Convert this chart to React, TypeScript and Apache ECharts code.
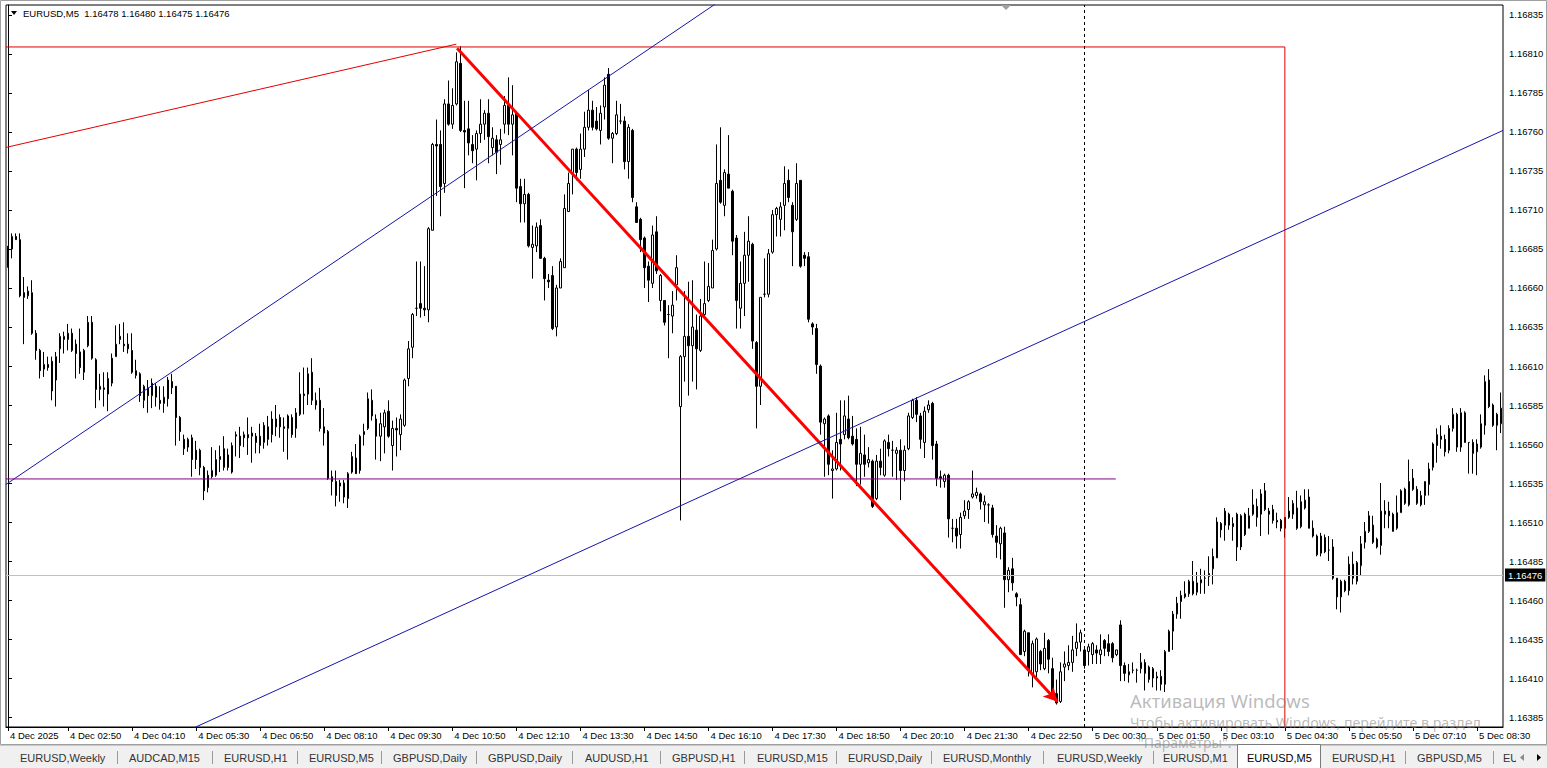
import React, { useEffect, useRef } from "react";
import * as echarts from "echarts";

// ---------- DATA (EURUSD M5 candles) ----------
const opens = [
  1.16686,1.16685,1.16693,1.16691,1.16657,1.16655,1.16657,1.16631,1.16620,1.16608,
  1.16611,1.16613,1.16601,1.16621,1.16627,1.16627,1.16631,1.16624,1.16619,1.16606,
  1.16623,1.16638,1.16614,1.16595,1.16596,1.16592,1.16599,1.16616,1.16629,1.16624,
  1.16624,1.16620,1.16607,1.16605,1.16588,1.16596,1.16591,1.16597,1.16588,1.16586,
  1.16589,1.16600,1.16597,1.16577,1.16563,1.16558,1.16564,1.16556,1.16556,1.16545,
  1.16532,1.16539,1.16540,1.16550,1.16545,1.16553,1.16542,1.16565,1.16565,1.16566,
  1.16566,1.16565,1.16565,1.16559,1.16561,1.16571,1.16566,1.16576,1.16577,1.16571,
  1.16570,1.16577,1.16570,1.16579,1.16592,1.16592,1.16606,1.16585,1.16588,1.16571,
  1.16568,1.16539,1.16536,1.16533,1.16535,1.16525,1.16542,1.16551,1.16543,1.16566,
  1.16570,1.16588,1.16576,1.16565,1.16571,1.16581,1.16559,1.16570,1.16566,1.16572,
  1.16602,1.16622,1.16647,1.16650,1.16647,1.16646,1.16697,1.16752,1.16752,1.16727,
  1.16778,1.16765,1.16778,1.16804,1.16761,1.16762,1.16752,1.16749,1.16759,1.16765,
  1.16772,1.16750,1.16755,1.16752,1.16765,1.16777,1.16765,1.16772,1.16725,1.16714,
  1.16720,1.16686,1.16687,1.16700,1.16679,1.16665,1.16668,1.16635,1.16660,1.16673,
  1.16709,1.16734,1.16749,1.16736,1.16749,1.16763,1.16774,1.16767,1.16761,1.16776,
  1.16797,1.16756,1.16759,1.16767,1.16767,1.16741,1.16761,1.16712,1.16704,1.16692,
  1.16674,1.16663,1.16696,1.16652,1.16652,1.16643,1.16642,1.16662,1.16584,1.16616,
  1.16629,1.16623,1.16633,1.16620,1.16643,1.16652,1.16660,1.16685,1.16729,1.16713,
  1.16733,1.16722,1.16692,1.16647,1.16663,1.16681,1.16688,1.16625,1.16597,1.16656,
  1.16656,1.16683,1.16707,1.16704,1.16713,1.16729,1.16713,1.16704,1.16729,1.16681,
  1.16680,1.16637,1.16634,1.16610,1.16573,1.16578,1.16543,1.16544,1.16563,1.16566,
  1.16576,1.16565,1.16563,1.16547,1.16553,1.16548,1.16549,1.16525,1.16549,1.16540,
  1.16561,1.16556,1.16554,1.16556,1.16543,1.16557,1.16577,1.16588,1.16578,1.16561,
  1.16582,1.16586,1.16560,1.16539,1.16536,1.16540,1.16506,1.16506,1.16502,1.16514,
  1.16518,1.16526,1.16527,1.16528,1.16521,1.16521,1.16519,1.16501,1.16496,1.16503,
  1.16473,1.16480,1.16464,1.16457,1.16427,1.16439,1.16412,1.16414,1.16427,1.16416,
  1.16434,1.16416,1.16400,1.16395,1.16417,1.16418,1.16420,1.16429,1.16433,1.16428,
  1.16427,1.16425,1.16428,1.16425,1.16434,1.16432,1.16432,1.16425,1.16444,1.16418,
  1.16412,1.16415,1.16415,1.16416,1.16420,1.16409,1.16416,1.16410,1.16411,1.16406,
  1.16427,1.16440,1.16451,1.16459,1.16462,1.16464,1.16472,1.16465,1.16471,1.16474,
  1.16475,1.16480,1.16487,1.16509,1.16508,1.16515,1.16507,1.16515,1.16494,1.16515,
  1.16506,1.16515,1.16520,1.16515,1.16530,1.16517,1.16518,1.16511,1.16511,1.16506,
  1.16513,1.16515,1.16519,1.16507,1.16519,1.16526,1.16506,1.16501,1.16490,1.16500,
  1.16492,1.16494,1.16474,1.16462,1.16472,1.16466,1.16483,1.16472,1.16482,1.16497,
  1.16504,1.16508,1.16499,1.16495,1.16517,1.16517,1.16515,1.16506,1.16516,1.16531,
  1.16521,1.16538,1.16531,1.16521,1.16527,1.16534,1.16545,1.16559,1.16565,1.16563,
  1.16556,1.16570,1.16579,1.16558,1.16580,1.16561,1.16561,1.16555,1.16558,1.16572,
  1.16601,1.16585,1.16579,1.16573,
];
const highs = [
  1.16687,1.16695,1.16695,1.16695,1.16667,1.16661,1.16665,1.16633,1.16621,1.16619,
  1.16616,1.16616,1.16619,1.16631,1.16632,1.16637,1.16634,1.16627,1.16634,1.16621,
  1.16642,1.16642,1.16615,1.16605,1.16606,1.16606,1.16618,1.16636,1.16637,1.16638,
  1.16631,1.16631,1.16614,1.16606,1.16598,1.16601,1.16602,1.16599,1.16597,1.16597,
  1.16603,1.16605,1.16597,1.16578,1.16566,1.16564,1.16566,1.16562,1.16557,1.16546,
  1.16543,1.16558,1.16556,1.16559,1.16565,1.16557,1.16561,1.16568,1.16571,1.16568,
  1.16577,1.16571,1.16567,1.16573,1.16574,1.16578,1.16581,1.16585,1.16579,1.16577,
  1.16579,1.16579,1.16583,1.16606,1.16609,1.16609,1.16615,1.16593,1.16596,1.16583,
  1.16569,1.16543,1.16543,1.16537,1.16537,1.16542,1.16555,1.16560,1.16566,1.16573,
  1.16593,1.16595,1.16579,1.16580,1.16582,1.16588,1.16575,1.16577,1.16579,1.16602,
  1.16626,1.16644,1.16677,1.16677,1.16674,1.16699,1.16753,1.16768,1.16761,1.16781,
  1.16793,1.16788,1.16811,1.16815,1.16780,1.16780,1.16758,1.16761,1.16781,1.16774,
  1.16781,1.16763,1.16758,1.16762,1.16783,1.16795,1.16790,1.16773,1.16730,1.16730,
  1.16721,1.16700,1.16702,1.16704,1.16680,1.16669,1.16674,1.16662,1.16679,1.16720,
  1.16734,1.16749,1.16750,1.16759,1.16773,1.16787,1.16780,1.16776,1.16777,1.16795,
  1.16801,1.16760,1.16780,1.16778,1.16770,1.16765,1.16762,1.16715,1.16705,1.16693,
  1.16677,1.16700,1.16706,1.16669,1.16652,1.16649,1.16658,1.16681,1.16617,1.16658,
  1.16664,1.16665,1.16643,1.16653,1.16677,1.16676,1.16691,1.16752,1.16763,1.16736,
  1.16758,1.16723,1.16694,1.16677,1.16696,1.16706,1.16689,1.16626,1.16654,1.16679,
  1.16685,1.16710,1.16712,1.16715,1.16738,1.16736,1.16715,1.16740,1.16729,1.16683,
  1.16683,1.16638,1.16637,1.16611,1.16577,1.16579,1.16556,1.16580,1.16588,1.16588,
  1.16591,1.16578,1.16570,1.16571,1.16566,1.16558,1.16550,1.16553,1.16557,1.16563,
  1.16566,1.16562,1.16558,1.16563,1.16559,1.16580,1.16589,1.16590,1.16580,1.16584,
  1.16588,1.16587,1.16562,1.16543,1.16541,1.16541,1.16512,1.16512,1.16516,1.16524,
  1.16524,1.16543,1.16532,1.16529,1.16527,1.16522,1.16521,1.16508,1.16507,1.16507,
  1.16481,1.16487,1.16465,1.16461,1.16441,1.16439,1.16434,1.16436,1.16428,1.16439,
  1.16435,1.16423,1.16409,1.16420,1.16427,1.16431,1.16437,1.16445,1.16441,1.16430,
  1.16432,1.16433,1.16431,1.16438,1.16435,1.16438,1.16433,1.16428,1.16447,1.16420,
  1.16419,1.16420,1.16416,1.16426,1.16422,1.16418,1.16417,1.16414,1.16415,1.16428,
  1.16441,1.16453,1.16462,1.16466,1.16472,1.16473,1.16485,1.16478,1.16480,1.16479,
  1.16488,1.16493,1.16513,1.16510,1.16519,1.16516,1.16513,1.16516,1.16515,1.16516,
  1.16519,1.16531,1.16525,1.16531,1.16535,1.16519,1.16521,1.16516,1.16512,1.16513,
  1.16526,1.16524,1.16530,1.16527,1.16531,1.16531,1.16511,1.16502,1.16503,1.16502,
  1.16501,1.16499,1.16474,1.16473,1.16473,1.16488,1.16491,1.16485,1.16501,1.16510,
  1.16517,1.16514,1.16500,1.16535,1.16524,1.16523,1.16516,1.16527,1.16531,1.16532,
  1.16550,1.16544,1.16533,1.16530,1.16536,1.16548,1.16561,1.16570,1.16572,1.16566,
  1.16572,1.16583,1.16580,1.16583,1.16581,1.16561,1.16563,1.16563,1.16579,1.16604,
  1.16608,1.16586,1.16580,1.16593,
];
const lows = [
  1.16673,1.16679,1.16691,1.16654,1.16624,1.16653,1.16630,1.16614,1.16602,1.16603,
  1.16607,1.16588,1.16584,1.16612,1.16618,1.16620,1.16619,1.16602,1.16605,1.16601,
  1.16622,1.16614,1.16583,1.16588,1.16584,1.16581,1.16597,1.16616,1.16624,1.16619,
  1.16618,1.16605,1.16602,1.16587,1.16583,1.16580,1.16583,1.16584,1.16582,1.16580,
  1.16584,1.16592,1.16559,1.16562,1.16553,1.16555,1.16539,1.16544,1.16540,1.16524,
  1.16529,1.16538,1.16539,1.16542,1.16543,1.16543,1.16541,1.16552,1.16551,1.16558,
  1.16553,1.16548,1.16554,1.16554,1.16557,1.16559,1.16561,1.16565,1.16564,1.16555,
  1.16550,1.16564,1.16564,1.16578,1.16579,1.16585,1.16585,1.16582,1.16568,1.16559,
  1.16537,1.16527,1.16520,1.16523,1.16522,1.16519,1.16541,1.16541,1.16541,1.16559,
  1.16569,1.16575,1.16550,1.16549,1.16554,1.16564,1.16543,1.16552,1.16556,1.16571,
  1.16597,1.16615,1.16642,1.16641,1.16642,1.16638,1.16697,1.16719,1.16706,1.16721,
  1.16764,1.16762,1.16777,1.16760,1.16724,1.16745,1.16740,1.16729,1.16753,1.16755,
  1.16740,1.16745,1.16733,1.16739,1.16759,1.16758,1.16745,1.16715,1.16702,1.16702,
  1.16686,1.16666,1.16683,1.16679,1.16652,1.16660,1.16633,1.16629,1.16660,1.16673,
  1.16709,1.16720,1.16729,1.16730,1.16744,1.16761,1.16761,1.16761,1.16752,1.16768,
  1.16755,1.16740,1.16758,1.16765,1.16736,1.16730,1.16715,1.16702,1.16683,1.16660,
  1.16651,1.16660,1.16669,1.16645,1.16636,1.16615,1.16631,1.16652,1.16511,1.16600,
  1.16591,1.16600,1.16595,1.16619,1.16642,1.16651,1.16660,1.16684,1.16714,1.16706,
  1.16724,1.16681,1.16634,1.16634,1.16642,1.16664,1.16621,1.16570,1.16585,1.16654,
  1.16654,1.16682,1.16693,1.16693,1.16697,1.16715,1.16674,1.16703,1.16673,1.16674,
  1.16638,1.16630,1.16605,1.16566,1.16539,1.16540,1.16525,1.16543,1.16543,1.16563,
  1.16563,1.16559,1.16533,1.16534,1.16539,1.16545,1.16519,1.16524,1.16540,1.16539,
  1.16552,1.16539,1.16537,1.16524,1.16536,1.16556,1.16576,1.16574,1.16557,1.16551,
  1.16580,1.16550,1.16533,1.16532,1.16532,1.16500,1.16497,1.16493,1.16493,1.16512,
  1.16512,1.16525,1.16525,1.16518,1.16510,1.16509,1.16500,1.16487,1.16486,1.16455,
  1.16465,1.16466,1.16456,1.16425,1.16424,1.16411,1.16404,1.16409,1.16415,1.16415,
  1.16413,1.16398,1.16393,1.16394,1.16408,1.16415,1.16414,1.16424,1.16427,1.16416,
  1.16418,1.16419,1.16419,1.16419,1.16424,1.16424,1.16420,1.16424,1.16408,1.16408,
  1.16407,1.16413,1.16407,1.16413,1.16402,1.16407,1.16404,1.16402,1.16402,1.16401,
  1.16427,1.16428,1.16448,1.16448,1.16461,1.16462,1.16463,1.16463,1.16464,1.16464,
  1.16469,1.16470,1.16487,1.16500,1.16498,1.16505,1.16498,1.16485,1.16492,1.16501,
  1.16506,1.16514,1.16507,1.16501,1.16517,1.16502,1.16509,1.16506,1.16504,1.16500,
  1.16512,1.16512,1.16505,1.16506,1.16518,1.16506,1.16500,1.16488,1.16488,1.16490,
  1.16485,1.16473,1.16454,1.16452,1.16465,1.16463,1.16470,1.16470,1.16476,1.16493,
  1.16503,1.16496,1.16493,1.16489,1.16506,1.16506,1.16504,1.16505,1.16516,1.16521,
  1.16520,1.16530,1.16521,1.16520,1.16521,1.16527,1.16543,1.16548,1.16557,1.16552,
  1.16554,1.16568,1.16555,1.16555,1.16561,1.16541,1.16541,1.16540,1.16557,1.16566,
  1.16583,1.16571,1.16556,1.16567,
];
const closes = [
  1.16674,1.16693,1.16691,1.16655,1.16654,1.16658,1.16631,1.16620,1.16607,1.16611,
  1.16609,1.16594,1.16616,1.16629,1.16629,1.16631,1.16620,1.16618,1.16609,1.16620,
  1.16638,1.16615,1.16595,1.16597,1.16595,1.16602,1.16615,1.16624,1.16627,1.16623,
  1.16621,1.16606,1.16604,1.16591,1.16597,1.16591,1.16599,1.16590,1.16586,1.16590,
  1.16601,1.16596,1.16577,1.16568,1.16557,1.16563,1.16550,1.16550,1.16545,1.16530,
  1.16540,1.16543,1.16550,1.16552,1.16557,1.16545,1.16559,1.16566,1.16559,1.16564,
  1.16564,1.16567,1.16561,1.16565,1.16572,1.16563,1.16576,1.16571,1.16571,1.16570,
  1.16578,1.16566,1.16580,1.16592,1.16591,1.16605,1.16588,1.16588,1.16570,1.16567,
  1.16538,1.16536,1.16527,1.16535,1.16526,1.16541,1.16552,1.16541,1.16565,1.16568,
  1.16589,1.16578,1.16565,1.16573,1.16580,1.16565,1.16570,1.16569,1.16576,1.16601,
  1.16621,1.16643,1.16647,1.16647,1.16646,1.16698,1.16752,1.16751,1.16725,1.16778,
  1.16765,1.16777,1.16805,1.16761,1.16760,1.16753,1.16748,1.16759,1.16765,1.16772,
  1.16757,1.16756,1.16747,1.16755,1.16777,1.16765,1.16771,1.16724,1.16714,1.16720,
  1.16687,1.16688,1.16699,1.16679,1.16666,1.16664,1.16634,1.16660,1.16677,1.16711,
  1.16727,1.16749,1.16734,1.16749,1.16763,1.16774,1.16763,1.16762,1.16772,1.16790,
  1.16756,1.16759,1.16771,1.16767,1.16741,1.16763,1.16718,1.16702,1.16691,1.16673,
  1.16665,1.16694,1.16671,1.16668,1.16638,1.16643,1.16649,1.16673,1.16616,1.16629,
  1.16623,1.16635,1.16621,1.16642,1.16650,1.16661,1.16684,1.16727,1.16715,1.16734,
  1.16724,1.16690,1.16652,1.16663,1.16681,1.16690,1.16626,1.16597,1.16654,1.16656,
  1.16682,1.16707,1.16711,1.16712,1.16727,1.16718,1.16696,1.16727,1.16674,1.16679,
  1.16640,1.16635,1.16611,1.16574,1.16576,1.16547,1.16544,1.16561,1.16560,1.16578,
  1.16564,1.16560,1.16547,1.16554,1.16547,1.16550,1.16520,1.16549,1.16545,1.16562,
  1.16557,1.16556,1.16556,1.16543,1.16556,1.16578,1.16588,1.16579,1.16563,1.16581,
  1.16585,1.16559,1.16538,1.16538,1.16540,1.16512,1.16506,1.16501,1.16513,1.16517,
  1.16523,1.16528,1.16529,1.16523,1.16523,1.16521,1.16502,1.16497,1.16506,1.16473,
  1.16479,1.16471,1.16462,1.16425,1.16440,1.16415,1.16432,1.16435,1.16419,1.16429,
  1.16422,1.16399,1.16394,1.16414,1.16419,1.16420,1.16428,1.16433,1.16439,1.16418,
  1.16430,1.16432,1.16426,1.16428,1.16429,1.16427,1.16423,1.16428,1.16418,1.16413,
  1.16414,1.16415,1.16415,1.16420,1.16413,1.16417,1.16410,1.16411,1.16406,1.16427,
  1.16440,1.16451,1.16458,1.16463,1.16464,1.16472,1.16464,1.16471,1.16473,1.16474,
  1.16477,1.16488,1.16510,1.16505,1.16517,1.16508,1.16509,1.16494,1.16514,1.16502,
  1.16514,1.16521,1.16513,1.16528,1.16518,1.16515,1.16511,1.16510,1.16506,1.16513,
  1.16517,1.16522,1.16506,1.16523,1.16524,1.16506,1.16501,1.16489,1.16501,1.16491,
  1.16492,1.16474,1.16462,1.16472,1.16466,1.16483,1.16474,1.16484,1.16496,1.16504,
  1.16514,1.16497,1.16494,1.16517,1.16515,1.16514,1.16504,1.16516,1.16530,1.16522,
  1.16536,1.16531,1.16522,1.16527,1.16536,1.16544,1.16560,1.16566,1.16563,1.16555,
  1.16570,1.16579,1.16558,1.16580,1.16561,1.16561,1.16554,1.16560,1.16573,1.16600,
  1.16584,1.16572,1.16572,1.16583,
];

// price scale ticks (right axis)
const priceTicks = [
  1.16385, 1.16410, 1.16435, 1.16460, 1.16485, 1.16510, 1.16535, 1.16560, 1.16585,
  1.16610, 1.16635, 1.16660, 1.16685, 1.16710, 1.16735, 1.16760, 1.16785, 1.16810, 1.16835,
];
const priceMin = 1.163786;
const priceMax = 1.168414;
const bidPrice = 1.16476;
const headerText = "EURUSD,M5  1.16478 1.16480 1.16475 1.16476";
const firstDateLabel = "4 Dec 2025";

// time of bars: 4 Dec from 01:35, then 5 Dec from 00:20 (session gap)
const dayNames = ["4 Dec", "5 Dec"];
const dayFirstMinute = [95, 20];
const barsOnFirstDay = 269;
const barMinutes = 5;

// drawn objects, as [bar index, price]
const redTrend = [[-0.5, 1.167501], [112, 1.168163]];
const redRectangle = [[-0.5, 1.168145], [319, 1.168145], [319, 1.1636]];
const blueTrendUpper = [[-0.5, 1.165341], [200, 1.168825]];
const blueTrendLower = [[40, 1.163705], [373.5, 1.16761]];
const purpleLevel = [[-0.5, 1.165376], [276.75, 1.165376]];
const redArrow = [[112.2, 1.168137], [262.2, 1.163948]];
const daySeparatorBar = 269;

// terminal tab bar
const tabLabels = [
  "EURUSD,Weekly", "AUDCAD,M15", "EURUSD,H1", "EURUSD,M5", "GBPUSD,Daily", "GBPUSD,Daily",
  "AUDUSD,H1", "GBPUSD,H1", "EURUSD,M15", "EURUSD,Daily", "EURUSD,Monthly", "EURUSD,Weekly",
  "EURUSD,M1", "EURUSD,M5", "EURUSD,H1", "GBPUSD,M5", "EU",
];
const activeTab = 13;

// ---------- layout ----------
const W = 1547;
const H = 768;
const FONT = "Liberation Sans, Arial, sans-serif";
const tabTextX = [20, 129, 224, 309, 393, 488, 585, 672, 757, 848, 943, 1057, 1163, 1247, 1332, 1417, 1503];
const tabSepX = [117, 212, 297, 381, 476, 572, 660, 744, 836, 931, 1043, 1153, 1405, 1493];

function hhmm(m: number) {
  const h = Math.floor(m / 60);
  const mm = m % 60;
  return (h < 10 ? "0" : "") + h + ":" + (mm < 10 ? "0" : "") + mm;
}

export default function App() {
  const ref = useRef<HTMLDivElement>(null);

  useEffect(() => {
    if (!ref.current) return;
    const chart = echarts.init(ref.current, null, { renderer: "svg" });

    const times = opens.map((_, i) =>
      i < barsOnFirstDay
        ? dayNames[0] + " " + hhmm(dayFirstMinute[0] + barMinutes * i)
        : dayNames[1] + " " + hhmm(dayFirstMinute[1] + barMinutes * (i - barsOnFirstDay))
    );
    const candles = opens.map((o, i) => [o, closes[i], lows[i], highs[i]]);
    const showTime = (index: number) => index === 0 || (index - 15) % 16 === 0;

    const overlay = (data: number[][], color: string, width: number) => ({
      type: "line",
      xAxisIndex: 1,
      yAxisIndex: 0,
      data,
      showSymbol: false,
      symbol: "none",
      silent: true,
      clip: true,
      z: 5,
      lineStyle: { color, width },
    });

    const graphic: any[] = [];
    // outer window edges
    graphic.push({ type: "rect", shape: { x: 0.5, y: 0.5, width: W - 1, height: 744 }, style: { fill: "none", stroke: "#a0a0a0", lineWidth: 1 }, silent: true });
    // header
    graphic.push({ type: "polygon", shape: { points: [[11, 11], [17, 11], [14, 15]] }, style: { fill: "#000" }, silent: true });
    graphic.push({ type: "text", x: 23, y: 13, style: { text: headerText, fill: "#000", font: "9.5px " + FONT, textVerticalAlign: "middle" }, silent: true });
    // chart shift marker
    graphic.push({ type: "polygon", shape: { points: [[1001, 5], [1011, 5], [1006, 10]] }, style: { fill: "#a0a0a0" }, silent: true });
    // tab bar
    graphic.push({ type: "rect", shape: { x: 0, y: 745, width: W, height: 23 }, style: { fill: "#f0f0f0" }, silent: true });
    graphic.push({ type: "line", shape: { x1: 0, y1: 745.5, x2: W, y2: 745.5 }, style: { stroke: "#c8c8c8", lineWidth: 1 }, silent: true });
    graphic.push({ type: "rect", shape: { x: 1237.5, y: 744.5, width: 83, height: 24 }, style: { fill: "#fff", stroke: "#7a7a7a", lineWidth: 1 }, silent: true });
    tabSepX.forEach((x) =>
      graphic.push({ type: "line", shape: { x1: x + 0.5, y1: 751, x2: x + 0.5, y2: 764 }, style: { stroke: "#9a9a9a", lineWidth: 1 }, silent: true })
    );
    tabLabels.forEach((t, i) =>
      graphic.push({ type: "text", x: tabTextX[i], y: 757.5, style: { text: t, fill: i === activeTab ? "#000" : "#333", font: "11px " + FONT, textVerticalAlign: "middle" }, silent: true })
    );
    graphic.push({ type: "rect", shape: { x: 1516, y: 746, width: 31, height: 22 }, style: { fill: "#f0f0f0" }, silent: true });
    graphic.push({ type: "polygon", shape: { points: [[1524, 754], [1524, 761], [1520, 757.5]] }, style: { fill: "#8a8a8a" }, silent: true });
    graphic.push({ type: "polygon", shape: { points: [[1537, 754], [1537, 761], [1541, 757.5]] }, style: { fill: "#000" }, silent: true });
    // Windows activation watermark
    graphic.push({ type: "text", x: 1130, y: 700, z: 100, style: { text: "Активация Windows", fill: "rgba(128,128,128,0.55)", font: "18.5px Noto Sans, sans-serif", textVerticalAlign: "middle" }, silent: true });
    graphic.push({ type: "text", x: 1130, y: 722, z: 100, style: { text: "Чтобы активировать Windows, перейдите в раздел", fill: "rgba(128,128,128,0.55)", font: "14.2px Noto Sans, sans-serif", textVerticalAlign: "middle" }, silent: true });
    graphic.push({ type: "text", x: 1138, y: 742, z: 100, style: { text: "\"Параметры\".", fill: "rgba(128,128,128,0.55)", font: "14px Noto Sans, sans-serif", textVerticalAlign: "middle" }, silent: true });

    chart.setOption({
      animation: false,
      backgroundColor: "#fff",
      grid: { left: 6, right: 44, top: 5, bottom: 41, show: true, borderColor: "#000", borderWidth: 1, backgroundColor: "#fff" },
      xAxis: [
        {
          type: "category",
          data: times,
          boundaryGap: true,
          axisLine: { show: true, lineStyle: { color: "#000", width: 1 } },
          axisTick: { show: true, interval: (i: number) => showTime(i), alignWithLabel: true, length: 4, lineStyle: { color: "#000" } },
          axisLabel: {
            show: true,
            interval: (i: number) => showTime(i),
            formatter: (v: string, i: number) => (i === 0 ? firstDateLabel : v),
            align: "left",
            margin: 3,
            padding: [0, 0, 0, 2],
            color: "#000",
            fontFamily: FONT,
            fontSize: 9.5,
          },
          splitLine: { show: false },
        },
        { type: "value", min: -0.5, max: opens.length - 0.5, show: false },
      ],
      yAxis: {
        type: "value",
        position: "right",
        min: priceMin,
        max: priceMax,
        axisLine: { show: true, lineStyle: { color: "#000", width: 1 } },
        axisTick: { show: true, length: 4, customValues: priceTicks, lineStyle: { color: "#000" } },
        axisLabel: { show: true, customValues: priceTicks, formatter: (v: number) => v.toFixed(5), margin: 6, color: "#000", fontFamily: FONT, fontSize: 9.5 },
        splitLine: { show: false },
      },
      graphic,
      series: [
        {
          type: "line",
          xAxisIndex: 1,
          yAxisIndex: 0,
          data: [],
          silent: true,
          z: 1,
          markLine: {
            silent: true,
            animation: false,
            precision: 5,
            symbol: ["none", "none"],
            lineStyle: { color: "#c0c0c0", width: 1, type: "solid" },
            label: {
              show: true,
              position: "end",
              formatter: bidPrice.toFixed(5),
              color: "#fff",
              backgroundColor: "#000",
              padding: [2, 3, 1, 3],
              fontFamily: FONT,
              fontSize: 9.5,
              distance: 2,
            },
            data: [{ yAxis: bidPrice }],
          },
        },
        {
          type: "candlestick",
          xAxisIndex: 0,
          yAxisIndex: 0,
          data: candles,
          barWidth: 2,
          silent: true,
          z: 3,
          itemStyle: { color: "#fff", color0: "#000", borderColor: "#000", borderColor0: "#000", borderWidth: 1 },
        },
        overlay(redTrend, "#e00000", 1),
        overlay(redRectangle, "#e00000", 1),
        overlay(blueTrendUpper, "#1515a8", 1),
        overlay(blueTrendLower, "#1515a8", 1),
        overlay(purpleLevel, "#800080", 1),
        {
          type: "line",
          xAxisIndex: 1,
          yAxisIndex: 0,
          data: [],
          silent: true,
          z: 6,
          markLine: {
            silent: true,
            animation: false,
            precision: 5,
            symbol: ["none", "none"],
            label: { show: false },
            lineStyle: { color: "#000", width: 1, type: [3, 3] },
            data: [{ xAxis: daySeparatorBar }],
          },
        },
        {
          type: "line",
          xAxisIndex: 1,
          yAxisIndex: 0,
          data: [],
          silent: true,
          z: 7,
          markLine: {
            silent: true,
            animation: false,
            precision: 5,
            symbol: ["none", "arrow"],
            symbolSize: [11, 14],
            label: { show: false },
            lineStyle: { color: "#ff0000", width: 3, type: "solid" },
            data: [[{ coord: redArrow[0] }, { coord: redArrow[1] }]],
          },
        },
      ],
    });

    return () => chart.dispose();
  }, []);

  return <div ref={ref} style={{ position: "absolute", left: 0, top: 0, width: W, height: H, background: "#fff" }} />;
}
